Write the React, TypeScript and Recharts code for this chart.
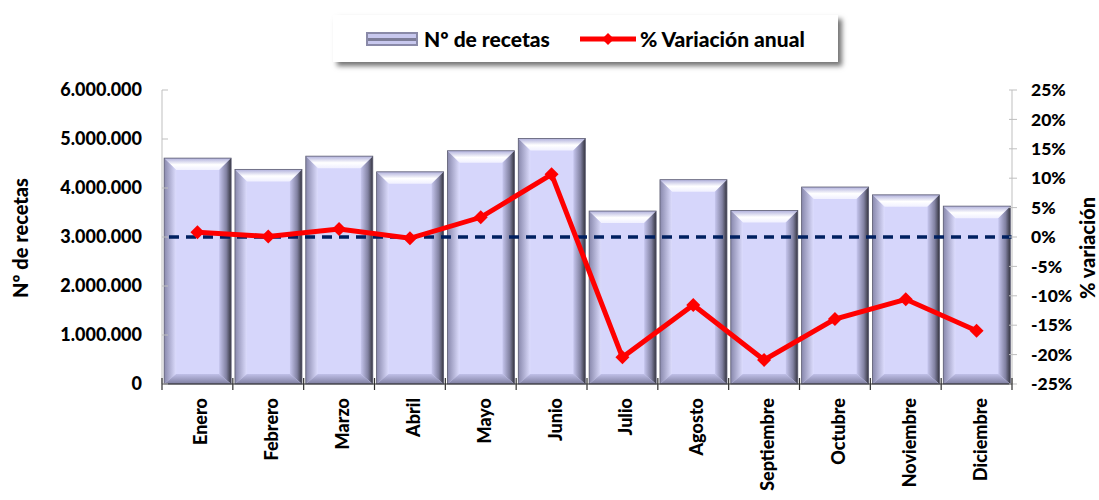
import React from "react";
import {
  ComposedChart,
  Bar,
  Line,
  XAxis,
  YAxis,
  Legend,
  ReferenceLine,
} from "recharts";

const MONTHS = [
  "Enero", "Febrero", "Marzo", "Abril", "Mayo", "Junio",
  "Julio", "Agosto", "Septiembre", "Octubre", "Noviembre", "Diciembre",
];
const RECETAS = [
  4610000, 4380000, 4650000, 4330000, 4760000, 5010000,
  3530000, 4170000, 3540000, 4020000, 3860000, 3630000,
];
const VARIACION = [
  0.8, 0.1, 1.36, -0.22, 3.35, 10.66,
  -20.46, -11.56, -20.9, -13.95, -10.6, -15.94,
];
const LEFT_TICKS = [0, 1000000, 2000000, 3000000, 4000000, 5000000, 6000000];
const RIGHT_TICKS = [-25, -20, -15, -10, -5, 0, 5, 10, 15, 20, 25];

const data = MONTHS.map((m, i) => ({ mes: m, recetas: RECETAS[i], variacion: VARIACION[i] }));

const FONT = "Lato, 'DejaVu Sans', sans-serif";

const fmtMiles = (v: number) => String(v).replace(/\B(?=(\d{3})+(?!\d))/g, ".");

function BevelBar(props: any) {
  const { x, y, width: w, height: h } = props;
  if (!h || h <= 0) return null;
  const b = 12;
  const bb = 10;
  return (
    <g>
      <rect x={x} y={y} width={w} height={h} fill="#d6d6fb" />
      <polygon points={`${x},${y} ${x + w},${y} ${x + w - b},${y + b} ${x + b},${y + b}`} fill="url(#bvTop)" />
      <polygon points={`${x},${y} ${x + b},${y + b} ${x + b},${y + h - bb} ${x},${y + h}`} fill="url(#bvLeft)" />
      <polygon points={`${x + w},${y} ${x + w},${y + h} ${x + w - b},${y + h - bb} ${x + w - b},${y + b}`} fill="url(#bvRight)" />
      <polygon points={`${x},${y + h} ${x + b},${y + h - bb} ${x + w - b},${y + h - bb} ${x + w},${y + h}`} fill="url(#bvBottom)" />
      <rect x={x} y={y} width={w} height={h} fill="none" stroke="#5c5c70" strokeWidth={0.8} />
    </g>
  );
}

function Diamond(props: any) {
  const { cx, cy } = props;
  if (cx == null || cy == null) return null;
  const r = 7;
  return <polygon points={`${cx},${cy - r} ${cx + r},${cy} ${cx},${cy + r} ${cx - r},${cy}`} fill="#ff0000" />;
}

function MonthTick(props: any) {
  const { x, y, payload, index } = props;
  const half = payload?.offset ?? 35.4;
  return (
    <g>
      <line x1={x - half} x2={x - half} y1={y - 6} y2={y + 6} stroke="#303030" strokeWidth={1.2} />
      {index === MONTHS.length - 1 && (
        <line x1={x + half} x2={x + half} y1={y - 6} y2={y + 6} stroke="#303030" strokeWidth={1.2} />
      )}
      <text
        x={x}
        y={y + 14}
        dy={10}
        transform={`rotate(-90, ${x}, ${y + 14})`}
        textAnchor="end"
        fontFamily={FONT}
        fontWeight={900}
        fontSize={18}
        fill="#000"
      >
        {payload.value}
      </text>
    </g>
  );
}

function AxisTitle({ viewBox, value, dxFromLeft, dy }: any) {
  const cx = viewBox.x + dxFromLeft;
  const cy = viewBox.y + viewBox.height / 2 + dy;
  return (
    <text
      x={cx}
      y={cy}
      transform={`rotate(-90, ${cx}, ${cy})`}
      textAnchor="middle"
      dominantBaseline="central"
      fontFamily={FONT}
      fontWeight={900}
      fontSize={20}
      fill="#000"
    >
      {value}
    </text>
  );
}

function LegendBox() {
  return (
    <div
      style={{
        width: 505,
        height: 47,
        background: "#fff",
        boxShadow: "4px 4px 5px rgba(0,0,0,0.55)",
        display: "flex",
        alignItems: "center",
        fontFamily: FONT,
        fontWeight: 900,
        fontSize: 21,
        color: "#000",
        boxSizing: "border-box",
      }}
    >
      <svg width={52} height={14} style={{ marginLeft: 33, marginRight: 6 }}>
        <rect x={0} y={0} width={52} height={14} fill="#8a8aa8" />
        <rect x={2} y={2} width={48} height={10} fill="#c8c8ee" />
        <rect x={2} y={6} width={48} height={3} fill="#7d7d98" />
      </svg>
      <span>Nº de recetas</span>
      <svg width={56} height={14} style={{ marginLeft: 30, marginRight: 4 }}>
        <line x1={0} x2={56} y1={7} y2={7} stroke="#ff0000" strokeWidth={5} />
        <polygon points="28,1 34,7 28,13 22,7" fill="#ff0000" />
      </svg>
      <span>% Variación anual</span>
    </div>
  );
}

export default function App() {
  return (
    <div style={{ position: "absolute", left: 0, top: 0, width: 1099, height: 500, background: "#fff" }}>
      <ComposedChart
        width={1099}
        height={500}
        data={data}
        margin={{ top: 90, right: 0, bottom: 0, left: 0 }}
        barCategoryGap="3%"
      >
        <defs>
          <linearGradient id="bvTop" x1="0" y1="0" x2="0" y2="1">
            <stop offset="0%" stopColor="#b0b0dc" />
            <stop offset="55%" stopColor="#ffffff" />
            <stop offset="100%" stopColor="#f0f0ff" />
          </linearGradient>
          <linearGradient id="bvLeft" x1="0" y1="0" x2="1" y2="0">
            <stop offset="0%" stopColor="#8888ac" />
            <stop offset="100%" stopColor="#dcdcfd" />
          </linearGradient>
          <linearGradient id="bvRight" x1="0" y1="0" x2="1" y2="0">
            <stop offset="0%" stopColor="#c6c6ee" />
            <stop offset="60%" stopColor="#8282a2" />
            <stop offset="100%" stopColor="#34343f" />
          </linearGradient>
          <linearGradient id="bvBottom" x1="0" y1="0" x2="0" y2="1">
            <stop offset="0%" stopColor="#c0c0e8" />
            <stop offset="100%" stopColor="#7e7ea0" />
          </linearGradient>
        </defs>
        <Legend
          verticalAlign="middle"
          align="center"
          layout="horizontal"
          wrapperStyle={{ top: 15, left: 333, width: 505, height: 47 }}
          content={() => <LegendBox />}
        />
        <XAxis
          dataKey="mes"
          height={116}
          interval={0}
          tickLine={false}
          tickSize={0}
          tickMargin={0}
          axisLine={{ stroke: "#303030", strokeWidth: 1.2 }}
          tick={<MonthTick />}
        />
        <YAxis
          yAxisId="left"
          width={162}
          domain={[0, 6000000]}
          ticks={LEFT_TICKS}
          tickFormatter={fmtMiles}
          axisLine={{ stroke: "#bfbfbf" }}
          tickLine={{ stroke: "#bfbfbf", transform: "translate(6,0)" }}
          tickSize={6}
          tickMargin={14}
          tick={{ fontFamily: FONT, fontWeight: 900, fontSize: 18, fill: "#000" }}
          label={{ content: (p: any) => <AxisTitle {...p} value="Nº de recetas" dxFromLeft={20} dy={1} /> }}
        />
        <YAxis
          yAxisId="right"
          orientation="right"
          width={87}
          domain={[-25, 25]}
          ticks={RIGHT_TICKS}
          tickFormatter={(v: number) => `${v}%`}
          axisLine={{ stroke: "#bfbfbf" }}
          tickLine={{ stroke: "#bfbfbf", transform: "translate(-3,0)" }}
          tickSize={8}
          tickMargin={11}
          tick={{ fontFamily: FONT, fontWeight: 900, fontSize: 17.5, fill: "#000" }}
          label={{ content: (p: any) => <AxisTitle {...p} value="% variación" dxFromLeft={75} dy={11} /> }}
        />
        <Bar yAxisId="left" dataKey="recetas" name="Nº de recetas" shape={<BevelBar />} isAnimationActive={false} />
        <ReferenceLine yAxisId="right" y={0} stroke="#002060" strokeWidth={3.5} strokeDasharray="10 7" />
        <Line
          yAxisId="right"
          dataKey="variacion"
          name="% Variación anual"
          stroke="#ff0000"
          strokeWidth={5}
          dot={<Diamond />}
          activeDot={false}
          isAnimationActive={false}
        />
      </ComposedChart>
    </div>
  );
}
